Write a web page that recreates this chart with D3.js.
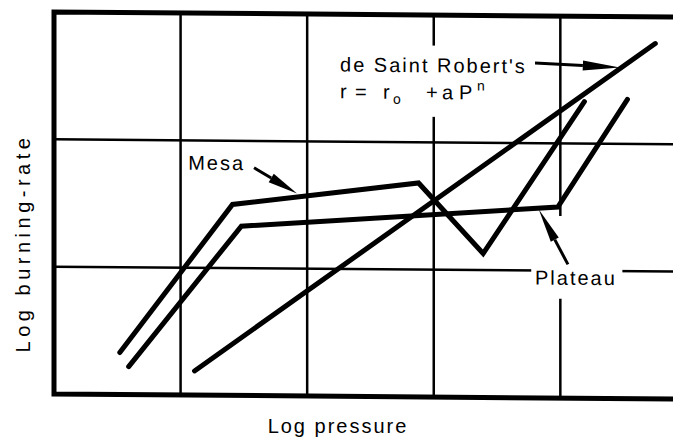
<!DOCTYPE html>
<html>
<head>
<meta charset="utf-8">
<script src="https://cdn.jsdelivr.net/npm/d3@7"></script>
<style>
  html, body { margin: 0; padding: 0; background: #fff; }
  svg { display: block; }
  text { font-family: "Liberation Sans", Arial, sans-serif; fill: #000; }
</style>
</head>
<body>
<div id="chart"></div>
<script>
// ---- data (log pressure units vs log burning-rate units) ----
const gridX = [1, 2, 3, 4];
const gridY = [1, 2];
const mesaX = [0.52, 1.41, 2.88, 3.39, 4.19];
const mesaY = [0.33, 1.50, 1.68, 1.13, 2.33];
const plateauX = [0.59, 1.48, 3.98, 4.53];
const plateauY = [0.22, 1.33, 1.50, 2.35];
const robertX = [1.11, 4.75];
const robertY = [0.19, 2.79];
const xLabel = "Log pressure";
const yLabel = "Log burning-rate";
const labelNames = ["Mesa", "Plateau", "de Saint Robert's"];
const labelX = [1.06, 3.80, 2.26];
const labelY = [1.77, 0.89, 2.55];
const arrowTailX = [1.58, 4.06, 3.80];
const arrowTailY = [1.79, 1.05, 2.63];
const arrowTipX = [1.92, 3.83, 4.47];
const arrowTipY = [1.59, 1.48, 2.60];

const W = 673, H = 439;
const svg = d3.select("#chart").append("svg").attr("width", W).attr("height", H);

const x = d3.scaleLinear().domain([0, 4.89]).range([54, 673]);
const y = d3.scaleLinear().domain([0, 3]).range([394, 12]);

const g = svg.append("g")
  .attr("transform", `translate(${x(0)},0) matrix(1,0.008,0,1,0,0) translate(${-x(0)},0)`);

// grid
g.selectAll(".gx").data(gridX).join("line")
  .attr("x1", d => x(d)).attr("x2", d => x(d))
  .attr("y1", y(3)).attr("y2", y(0))
  .attr("stroke", "#000").attr("stroke-width", 2.5);
g.selectAll(".gy").data(gridY).join("line")
  .attr("x1", x(0)).attr("x2", x(4.89))
  .attr("y1", d => y(d)).attr("y2", d => y(d))
  .attr("stroke", "#000").attr("stroke-width", 2.5);

// frame (left, top, bottom; right edge lies outside the view)
g.append("path")
  .attr("d", `M${x(4.89)},${y(3)}H${x(0)}V${y(0)}H${x(4.89)}`)
  .attr("fill", "none").attr("stroke", "#000").attr("stroke-width", 5);

// white backgrounds behind labels (gaps in the grid)
g.append("rect").attr("x", x(2.23)).attr("y", y(2.76))
  .attr("width", x(3.76) - x(2.23)).attr("height", y(2.2) - y(2.76)).attr("fill", "#fff");
g.append("rect").attr("x", x(3.77)).attr("y", y(1.43))
  .attr("width", x(4.49) - x(3.77)).attr("height", y(0.78) - y(1.43)).attr("fill", "#fff");

// curves
const line = d3.line().x(d => x(d[0])).y(d => y(d[1]));
const series = [
  d3.zip(mesaX, mesaY),
  d3.zip(plateauX, plateauY),
  d3.zip(robertX, robertY)
];
g.selectAll(".curve").data(series).join("path")
  .attr("d", line)
  .attr("fill", "none").attr("stroke", "#000").attr("stroke-width", 5)
  .attr("stroke-linecap", "round").attr("stroke-linejoin", "miter");

// arrows
const headLen = [30, 34, 37], headW = [10, 9, 10];
arrowTipX.forEach((tx, i) => {
  const x0 = x(arrowTailX[i]), y0 = y(arrowTailY[i]);
  const x1 = x(tx), y1 = y(arrowTipY[i]);
  const dx = x1 - x0, dy = y1 - y0, L = Math.hypot(dx, dy);
  const ux = dx / L, uy = dy / L, nx = -uy, ny = ux;
  const bx = x1 - ux * headLen[i], by = y1 - uy * headLen[i];
  g.append("line").attr("x1", x0).attr("y1", y0).attr("x2", bx).attr("y2", by)
    .attr("stroke", "#000").attr("stroke-width", 3);
  g.append("path")
    .attr("d", `M${x1},${y1}L${bx + nx * headW[i] / 2},${by + ny * headW[i] / 2}L${bx - nx * headW[i] / 2},${by - ny * headW[i] / 2}Z`)
    .attr("fill", "#000");
});

// labels
const fs = 20, ls = 2;
labelNames.forEach((t, i) => {
  g.append("text").attr("x", x(labelX[i])).attr("y", y(labelY[i]))
    .attr("font-size", fs).attr("letter-spacing", ls).text(t);
});
// formula line
const fx = x(labelX[2]), fy = y(2.34);
const ft = g.append("text").attr("x", fx).attr("y", fy).attr("font-size", fs);
ft.append("tspan").text("r");
ft.append("tspan").attr("x", fx + 15).text("=");
ft.append("tspan").attr("x", fx + 43).text("r");
ft.append("tspan").attr("x", fx + 53).attr("dy", 5).attr("font-size", 14).text("o");
ft.append("tspan").attr("x", fx + 86).attr("dy", -5).text("+");
ft.append("tspan").attr("x", fx + 102).text("a");
ft.append("tspan").attr("x", fx + 119).text("P");
ft.append("tspan").attr("x", fx + 137).attr("dy", -9).attr("font-size", 14).text("n");

// axis titles
svg.append("text").attr("x", 338).attr("y", 433).attr("text-anchor", "middle")
  .attr("font-size", fs).attr("letter-spacing", ls).text(xLabel);
svg.append("text").attr("transform", "translate(30,243) rotate(-90)")
  .attr("text-anchor", "middle")
  .attr("font-size", fs).attr("letter-spacing", 4.5).text(yLabel);
</script>
</body>
</html>
